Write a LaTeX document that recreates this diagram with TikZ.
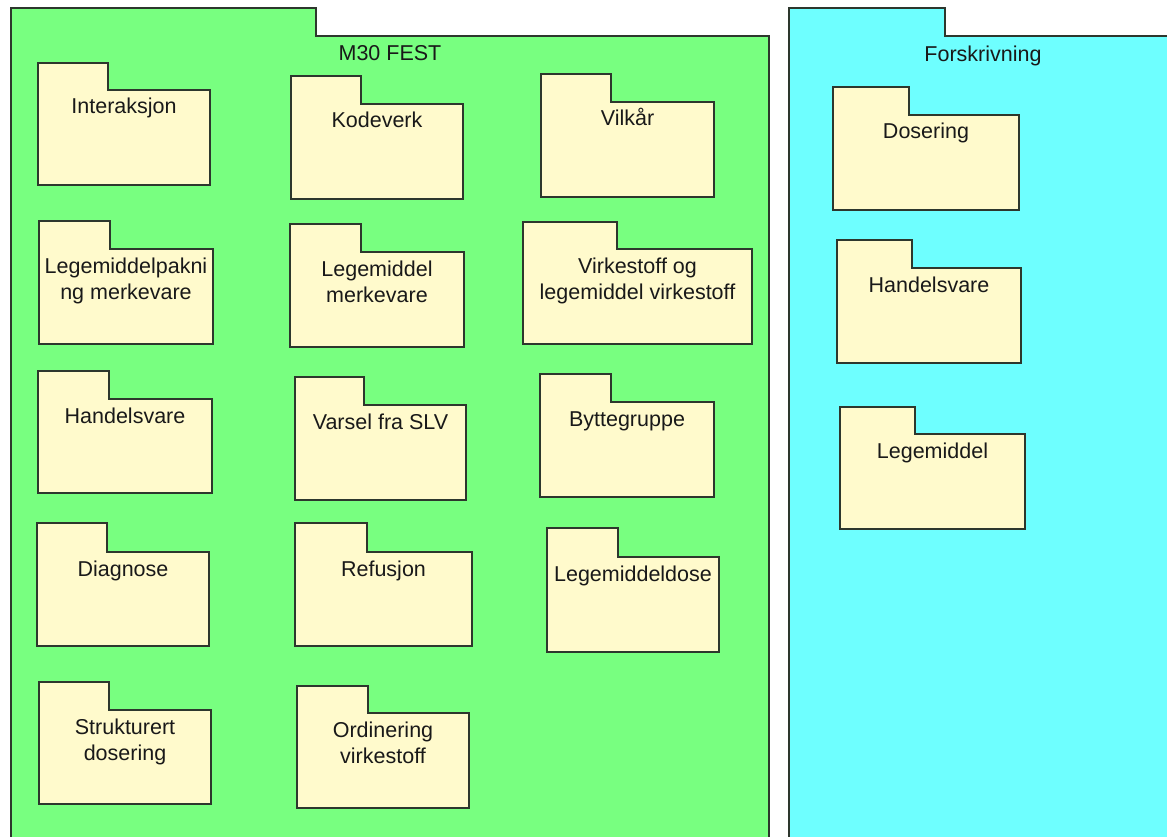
\documentclass[tikz,border=0pt]{standalone}
\usepackage{fontspec}
\setmainfont{Liberation Sans}
\definecolor{pkggreen}{RGB}{120,255,128}
\definecolor{pkgcyan}{RGB}{110,255,255}
\definecolor{foldfill}{RGB}{255,250,204}
\definecolor{edge}{RGB}{45,55,45}
\tikzset{
  pkgline/.style={draw=edge, line width=1.3pt, line join=miter},
  greenpkg/.style={pkgline, fill=pkggreen},
  cyanpkg/.style={pkgline, fill=pkgcyan},
  folderbox/.style={pkgline, fill=foldfill},
  lbl/.style={inner sep=0pt, anchor=base, align=center,
    font=\fontsize{21.5}{26}\selectfont, text=black!90},
}
% #1 name, #2 style, #3 x0, #4 tab top, #5 tab right, #6 body top, #7 right, #8 bottom, #9 text
\newcommand{\umlfolder}[9]{%
  \draw[#2] (#3,#4) -- (#5,#4) -- (#5,#6) -- (#7,#6) -- (#7,#8) -- (#3,#8) -- cycle;
  \node[lbl] (#1) at ({(#3+#7)/2},{#6+24}) {#9};
}
% same, for a two-line label (base anchor sits on the last line)
\newcommand{\umlfolderii}[9]{%
  \draw[#2] (#3,#4) -- (#5,#4) -- (#5,#6) -- (#7,#6) -- (#7,#8) -- (#3,#8) -- cycle;
  \node[lbl] (#1) at ({(#3+#7)/2},{#6+50}) {#9};
}
\begin{document}
\begin{tikzpicture}[x=1pt,y=-1pt]
\useasboundingbox (0,0) rectangle (1167,837);
\fill[white] (0,0) rectangle (1167,837);
\clip (0,0) rectangle (1167,837);
% outer packages
\umlfolder{fest}{greenpkg}{11}{8}{316}{36}{769}{870}{}
\node[lbl] (festtitle) at (390,61) {M30 FEST};
\umlfolder{forskr}{cyanpkg}{789}{8}{945}{36}{1177}{870}{}
\node[lbl] (forskrtitle) at (983,62) {Forskrivning};
% M30 FEST contents
\umlfolder{interaksjon}{folderbox}{38}{63}{108}{90}{210}{185}{Interaksjon}
\umlfolder{kodeverk}{folderbox}{291}{76}{361}{104}{463}{199}{Kodeverk}
\umlfolder{vilkar}{folderbox}{541}{74}{611}{102}{714}{197}{Vilkår}
\umlfolderii{lmpakning}{folderbox}{39}{221}{110}{249}{213}{344}{Legemiddelpakni\\ng merkevare}
\umlfolderii{lmmerke}{folderbox}{290}{224}{361}{252}{464}{347}{Legemiddel\\merkevare}
\umlfolderii{virkestoff}{folderbox}{523}{222}{617}{249}{752}{344}{Virkestoff og\\legemiddel virkestoff}
\umlfolder{handelsvareA}{folderbox}{38}{371}{109}{399}{212}{493}{Handelsvare}
\umlfolder{varsel}{folderbox}{295}{377}{364}{405}{466}{500}{Varsel fra SLV}
\umlfolder{byttegruppe}{folderbox}{540}{374}{611}{402}{714}{497}{Byttegruppe}
\umlfolder{diagnose}{folderbox}{37}{523}{107}{552}{209}{646}{Diagnose}
\umlfolder{refusjon}{folderbox}{295}{523}{367}{552}{472}{646}{Refusjon}
\umlfolder{lmdose}{folderbox}{547}{528}{618}{557}{719}{652}{Legemiddeldose}
\umlfolderii{strukturert}{folderbox}{39}{682}{109}{710}{211}{804}{Strukturert\\dosering}
\umlfolderii{ordinering}{folderbox}{297}{686}{368}{713}{469}{808}{Ordinering\\virkestoff}
% Forskrivning contents
\umlfolder{dosering}{folderbox}{833}{87}{909}{115}{1019}{210}{Dosering}
\umlfolder{handelsvareB}{folderbox}{837}{240}{912}{268}{1021}{363}{Handelsvare}
\umlfolder{legemiddel}{folderbox}{840}{407}{915}{434}{1025}{529}{Legemiddel}
\end{tikzpicture}
\end{document}
